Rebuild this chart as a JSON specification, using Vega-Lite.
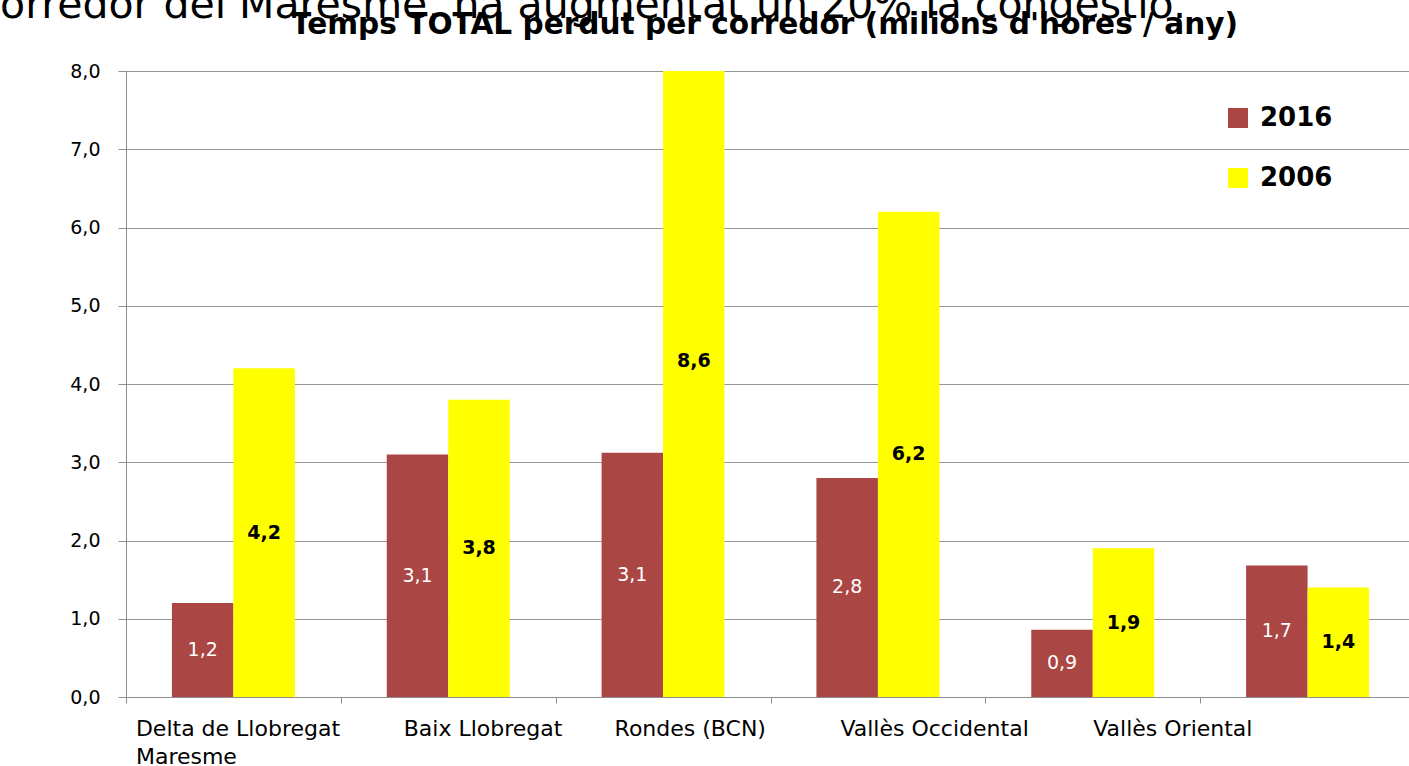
{
  "$schema": "https://vega.github.io/schema/vega-lite/v6.json",
  "autosize": {"type": "none"},
  "width": 1283,
  "height": 626,
  "padding": {"left": 126, "top": 71, "right": 0, "bottom": 69},
  "background": "white",
  "data": {
    "values": [
      {"corredor": "Delta de Llobregat", "any": "2016", "hores": 1.2},
      {"corredor": "Delta de Llobregat", "any": "2006", "hores": 4.2},
      {"corredor": "Baix Llobregat", "any": "2016", "hores": 3.1},
      {"corredor": "Baix Llobregat", "any": "2006", "hores": 3.8},
      {"corredor": "Rondes (BCN)", "any": "2016", "hores": 3.12},
      {"corredor": "Rondes (BCN)", "any": "2006", "hores": 8.6},
      {"corredor": "Vallès Occidental", "any": "2016", "hores": 2.8},
      {"corredor": "Vallès Occidental", "any": "2006", "hores": 6.2},
      {"corredor": "Vallès Oriental", "any": "2016", "hores": 0.86},
      {"corredor": "Vallès Oriental", "any": "2006", "hores": 1.9},
      {"corredor": "Maresme", "any": "2016", "hores": 1.68},
      {"corredor": "Maresme", "any": "2006", "hores": 1.4}
    ]
  },
  "transform": [
    {"calculate": "datum.hores / 2", "as": "mig"}
  ],
  "layer": [
    {
      "mark": {"type": "bar", "clip": true},
      "encoding": {
        "x": {
          "field": "corredor",
          "type": "nominal",
          "scale": {
            "domain": ["Delta de Llobregat", "Baix Llobregat", "Rondes (BCN)", "Vallès Occidental", "Vallès Oriental", "Maresme"],
            "range": [0, 1289],
            "paddingInner": 0,
            "paddingOuter": 0
          },
          "axis": {
            "title": null,
            "orient": "bottom",
            "tickBand": "extent",
            "tickSize": 6,
            "tickColor": "#8e8e8e",
            "domainColor": "#8e8e8e",
            "grid": false,
            "labelAngle": 0,
            "labelAlign": "left",
            "labelBaseline": "top",
            "labelPadding": 15,
            "labelFont": "DejaVu Sans",
            "labelFontSize": 22,
            "labelColor": "black",
            "labelLineHeight": 28,
            "labelOverlap": false,
            "labelFlush": false,
            "labelLimit": 400,
            "labelExpr": "datum.value == 'Delta de Llobregat' ? ['Delta de Llobregat', 'Maresme'] : datum.value == 'Maresme' ? '' : datum.label",
            "labelOffset": {
              "condition": [
                {"test": "datum.value == 'Delta de Llobregat'", "value": -98},
                {"test": "datum.value == 'Baix Llobregat'", "value": -45},
                {"test": "datum.value == 'Rondes (BCN)'", "value": -49},
                {"test": "datum.value == 'Vallès Occidental'", "value": -38}
              ],
              "value": 0
            }
          }
        },
        "xOffset": {
          "field": "any",
          "type": "nominal",
          "scale": {"domain": ["2016", "2006"], "paddingInner": 0, "paddingOuter": 0.747}
        },
        "y": {
          "field": "hores",
          "type": "quantitative",
          "scale": {"domain": [0, 8], "nice": false},
          "title": "corredor del Maresme, ha augmentat un 20% la congestió.",
          "axis": {
            "values": [0, 1, 2, 3, 4, 5, 6, 7, 8],
            "format": ".1f",
            "tickSize": 8,
            "tickColor": "#8e8e8e",
            "domainColor": "#8e8e8e",
            "gridColor": "#969696",
            "gridWidth": 1.2,
            "labelPadding": 18,
            "labelFont": "DejaVu Sans",
            "labelFontSize": 19,
            "labelColor": "black",
            "titleAngle": 0,
            "titleAlign": "left",
            "titleBaseline": "alphabetic",
            "titleX": -149,
            "titleY": -54,
            "titleFont": "DejaVu Sans",
            "titleFontSize": 41,
            "titleFontWeight": "normal",
            "titleColor": "black",
            "titleLimit": 3000
          }
        },
        "color": {
          "field": "any",
          "type": "nominal",
          "scale": {"domain": ["2016", "2006"], "range": ["#AA4643", "#FFFF00"]},
          "legend": {
            "title": null,
            "orient": "none",
            "legendX": 1099,
            "legendY": 34,
            "symbolType": "square",
            "symbolSize": 400,
            "symbolStrokeWidth": 0,
            "symbolOpacity": 1,
            "labelFont": "DejaVu Sans",
            "labelFontSize": 26,
            "labelFontWeight": "bold",
            "labelColor": "black",
            "labelOffset": 9,
            "rowPadding": 34
          }
        }
      }
    },
    {
      "transform": [{"filter": "datum.any == '2016'"}],
      "mark": {"type": "text", "color": "white", "font": "DejaVu Sans", "fontSize": 19, "baseline": "middle", "align": "center"},
      "encoding": {
        "x": {
          "field": "corredor",
          "type": "nominal",
          "axis": {
            "orient": "top",
            "labels": false,
            "ticks": false,
            "domain": false,
            "grid": false,
            "title": "Temps TOTAL perdut per corredor (milions d'hores / any)",
            "titleFont": "DejaVu Sans",
            "titleFontSize": 29.6,
            "titleFontWeight": "bold",
            "titleColor": "black",
            "titleX": 638,
            "titleY": -38,
            "titleAlign": "center",
            "titleBaseline": "alphabetic",
            "titleLimit": 3000
          }
        },
        "xOffset": {"field": "any", "type": "nominal"},
        "y": {"field": "mig", "type": "quantitative", "title": "corredor del Maresme, ha augmentat un 20% la congestió."},
        "text": {"field": "hores", "type": "quantitative", "format": ".1f"}
      }
    },
    {
      "transform": [{"filter": "datum.any == '2006'"}],
      "mark": {"type": "text", "color": "black", "font": "DejaVu Sans", "fontSize": 19, "fontWeight": "bold", "baseline": "middle", "align": "center"},
      "encoding": {
        "x": {"field": "corredor", "type": "nominal", "axis": null},
        "xOffset": {"field": "any", "type": "nominal"},
        "y": {"field": "mig", "type": "quantitative", "title": "corredor del Maresme, ha augmentat un 20% la congestió."},
        "text": {"field": "hores", "type": "quantitative", "format": ".1f"}
      }
    }
  ],
  "resolve": {"axis": {"x": "independent"}},
  "config": {
    "view": {"stroke": null},
    "font": "DejaVu Sans",
    "locale": {
      "number": {"decimal": ",", "thousands": ".", "grouping": [3], "currency": ["", " €"]}
    }
  }
}
